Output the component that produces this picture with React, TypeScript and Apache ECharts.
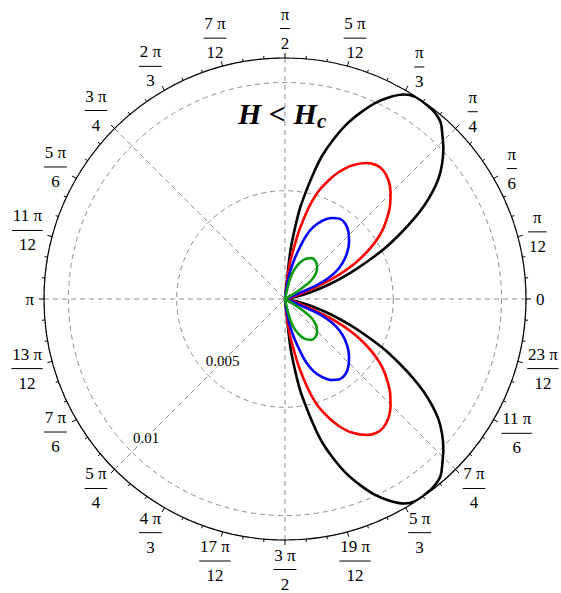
import React, { useEffect, useRef } from 'react';
import * as echarts from 'echarts';

const WIDTH = 561;
const HEIGHT = 593;

// Angle tick positions (degrees) and their labels (numerator/denominator)
const angleTicks = [0, 15, 30, 45, 60, 75, 90, 105, 120, 135, 150, 165, 180, 195, 210, 225, 240, 255, 270, 285, 300, 315, 330, 345];
const angleTickLabels = ['0', 'π/12', 'π/6', 'π/4', 'π/3', '5 π/12', 'π/2', '7 π/12', '2 π/3', '3 π/4', '5 π/6', '11 π/12', 'π', '13 π/12', '7 π/6', '5 π/4', '4 π/3', '17 π/12', '3 π/2', '19 π/12', '5 π/3', '7 π/4', '11 π/6', '23 π/12'];

// Radius ticks
const radiusTicks = [0.005, 0.01];
const radiusTickLabels = ['0.005', '0.01'];
const radiusMax = 0.01113;

// Upper lobes, read as [angle in degrees, radius]; lower lobes are their mirror images
const blackLobe: [number, number][] = [
  [6, 0], [11.3, 0.00047], [14.6, 0.00119], [18.4, 0.00219], [21.8, 0.00323], [24.6, 0.00422],
  [27.0, 0.00519], [29.5, 0.0061], [31.7, 0.00695], [33.8, 0.00772], [36.0, 0.00842], [38.2, 0.00903],
  [40.7, 0.00957], [43.5, 0.01008], [46.2, 0.0105], [48.7, 0.01088], [51.6, 0.01106], [54.4, 0.01111],
  [57.2, 0.01111], [59.8, 0.01093], [62.5, 0.01052], [65.3, 0.00996], [68.0, 0.00927], [70.7, 0.00852],
  [73.2, 0.00767], [75.5, 0.00682], [77.1, 0.00602], [78.8, 0.00513], [80.6, 0.00426], [82.0, 0.00331],
  [83.6, 0.00228], [84.05, 0.00111], [85, 0],
];
const redLobe: [number, number][] = [
  [12, 0], [16.7, 0.00048], [20.0, 0.00108], [22.3, 0.00195], [24.4, 0.00279], [26.9, 0.00358],
  [29.6, 0.0043], [32.5, 0.00498], [35.5, 0.00556], [38.7, 0.00606], [41.8, 0.00651], [45.4, 0.00694],
  [49.0, 0.00728], [52.8, 0.00748], [55.8, 0.00748], [59.0, 0.00733], [63.4, 0.0069], [67.0, 0.00637],
  [70.0, 0.0058], [72.9, 0.00517], [75.1, 0.00449], [77.0, 0.00375], [78.7, 0.00306], [80.4, 0.0023],
  [82.5, 0.00158], [83.8, 0.00073], [86, 0],
];
const blueLobe: [number, number][] = [
  [18, 0], [20.6, 0.00039], [22.6, 0.0009], [23.5, 0.00156], [25.5, 0.00215], [28.3, 0.00267],
  [32.0, 0.00313], [36.6, 0.00357], [41.7, 0.00396], [46.5, 0.00426], [51.1, 0.00445], [55.5, 0.00449],
  [60.0, 0.00432], [64.6, 0.00399], [68.5, 0.00358], [71.6, 0.00307], [73.9, 0.0025], [76.6, 0.0019],
  [79.5, 0.00127], [81.9, 0.00065], [84, 0],
];
const greenLobe: [number, number][] = [
  [28, 0], [30.3, 0.00032], [31.6, 0.00071], [33.7, 0.00116], [35.8, 0.00154], [40.0, 0.00187],
  [45.4, 0.00211], [51.3, 0.00225], [57.1, 0.00225], [63.4, 0.00206], [68.1, 0.00179], [72.8, 0.0014],
  [76.0, 0.00095], [77.5, 0.00042], [79, 0],
];

const curves = [
  { name: 'black', color: '#000000', lobe: blackLobe },
  { name: 'red', color: '#ff0000', lobe: redLobe },
  { name: 'blue', color: '#0000ff', lobe: blueLobe },
  { name: 'green', color: '#0f9b0f', lobe: greenLobe },
];

const SERIF = '"Liberation Serif", "DejaVu Serif", serif';
const GRID = '#8c8c8c';

function measure(text: string, font: string): number {
  const c = document.createElement('canvas').getContext('2d');
  if (!c) return text.length * 8;
  c.font = font;
  return c.measureText(text).width;
}

export default function App() {
  const ref = useRef<HTMLDivElement>(null);
  useEffect(() => {
    if (!ref.current) return;
    const chart = echarts.init(ref.current, null, { renderer: 'svg' });
    const center = [285, 299];
    const outerR = 241;

    const series: any[] = [];
    curves.forEach((c) => {
      const upper = c.lobe.map(([a, r]) => [r, a]);
      const lower = c.lobe.map(([a, r]) => [r, 360 - a]).reverse();
      [upper, lower].forEach((d) => {
        series.push({
          type: 'line', coordinateSystem: 'polar', polarIndex: 0, data: d,
          smooth: 0.35, showSymbol: false, symbol: 'none', silent: true,
          lineStyle: { color: c.color, width: 2.6 }, z: 5,
        });
      });
    });

    const dashed = { color: GRID, type: [5, 4], width: 1 };
    chart.setOption({
      animation: false,
      backgroundColor: '#ffffff',
      polar: [
        { center, radius: outerR },
        { center, radius: outerR },
      ],
      angleAxis: [
        {
          polarIndex: 0, type: 'value', min: 0, max: 360, interval: 45, startAngle: 0, clockwise: false,
          axisLine: { show: false }, axisTick: { show: false }, axisLabel: { show: false },
          splitLine: { show: true, lineStyle: dashed }, z: 1,
        },
        {
          polarIndex: 1, type: 'value', min: 0, max: 360, interval: 15, startAngle: 0, clockwise: false,
          axisLine: { show: true, lineStyle: { color: '#000', width: 1.2 } },
          axisTick: { show: true, length: 5, lineStyle: { color: '#000', width: 1 } },
          minorTick: { show: true, splitNumber: 3, length: 3, lineStyle: { color: '#000', width: 1 } },
          axisLabel: { show: false }, splitLine: { show: false }, z: 4,
        },
      ],
      radiusAxis: [
        {
          polarIndex: 0, type: 'value', min: 0, max: radiusMax, interval: 0.005,
          axisLine: { show: false }, axisTick: { show: false }, axisLabel: { show: false },
          splitLine: { show: true, lineStyle: dashed }, z: 1,
        },
        {
          polarIndex: 1, type: 'value', min: 0, max: radiusMax,
          axisLine: { show: false }, axisTick: { show: false }, axisLabel: { show: false },
          splitLine: { show: false },
        },
      ],
      series,
    });

    const toPx = (r: number, a: number): number[] => {
      let p: any = null;
      try { p = chart.convertToPixel({ polarIndex: 1 } as any, [r, a]); } catch (e) { p = null; }
      if (!p) {
        const rr = (r / radiusMax) * outerR;
        p = [center[0] + rr * Math.cos((a * Math.PI) / 180), center[1] - rr * Math.sin((a * Math.PI) / 180)];
      }
      return p;
    };
    const pxPerUnit = (toPx(radiusMax, 0)[0] - toPx(0, 0)[0]) / radiusMax;

    const labelFont = `17px ${SERIF}`;
    const gap = 10;
    const graphics: any[] = [];
    angleTicks.forEach((a, i) => {
      const lab = angleTickLabels[i];
      const parts = lab.split('/');
      let hw: number, hh: number;
      const children: any[] = [];
      if (parts.length === 2) {
        const nw = measure(parts[0], labelFont);
        const dw = measure(parts[1], labelFont);
        const bw = Math.max(nw, dw) + 1.5;
        hw = bw / 2;
        hh = 20;
        children.push({ type: 'text', style: { text: parts[0], x: 0, y: -14, font: labelFont, fill: '#000', align: 'center', textAlign: 'center', verticalAlign: 'middle', textVerticalAlign: 'middle' } });
        children.push({ type: 'line', shape: { x1: -bw / 2, y1: 0.5, x2: bw / 2, y2: 0.5 }, style: { stroke: '#000', lineWidth: 1 } });
        children.push({ type: 'text', style: { text: parts[1], x: 0, y: 15, font: labelFont, fill: '#000', align: 'center', textAlign: 'center', verticalAlign: 'middle', textVerticalAlign: 'middle' } });
      } else {
        hw = measure(lab, labelFont) / 2;
        hh = 6;
        children.push({ type: 'text', style: { text: lab, x: 0, y: 0, font: labelFont, fill: '#000', align: 'center', textAlign: 'center', verticalAlign: 'middle', textVerticalAlign: 'middle' } });
      }
      const th = (a * Math.PI) / 180;
      const ext = Math.sqrt(Math.pow(hw * Math.cos(th), 2) + Math.pow(hh * Math.sin(th), 2));
      const rData = radiusMax + (gap + ext) / pxPerUnit;
      const p = toPx(rData, a);
      graphics.push({ type: 'group', x: p[0], y: Math.min(p[1], HEIGHT - 24), children, silent: true });
    });

    const radFont = `15px ${SERIF}`;
    radiusTicks.forEach((r, i) => {
      const p = toPx(r - 20 / pxPerUnit, 225);
      graphics.push({ type: 'text', silent: true, style: { text: radiusTickLabels[i], x: p[0], y: p[1], font: radFont, fill: '#000', align: 'center', textAlign: 'center', verticalAlign: 'middle', textVerticalAlign: 'middle' } });
    });

    graphics.push({ type: 'text', silent: true, z: 10, style: { text: 'H < H', x: 238, y: 113, font: `italic bold 30px ${SERIF}`, fill: '#000', align: 'left', textAlign: 'left', verticalAlign: 'middle', textVerticalAlign: 'middle' } });
    graphics.push({ type: 'text', silent: true, z: 10, style: { text: 'c', x: 317, y: 121, font: `italic bold 21px ${SERIF}`, fill: '#000', align: 'left', textAlign: 'left', verticalAlign: 'middle', textVerticalAlign: 'middle' } });

    chart.setOption({ graphic: graphics });

    return () => chart.dispose();
  }, []);
  return <div ref={ref} style={{ position: 'absolute', left: 0, top: 0, width: WIDTH, height: HEIGHT, background: '#fff' }} />;
}
